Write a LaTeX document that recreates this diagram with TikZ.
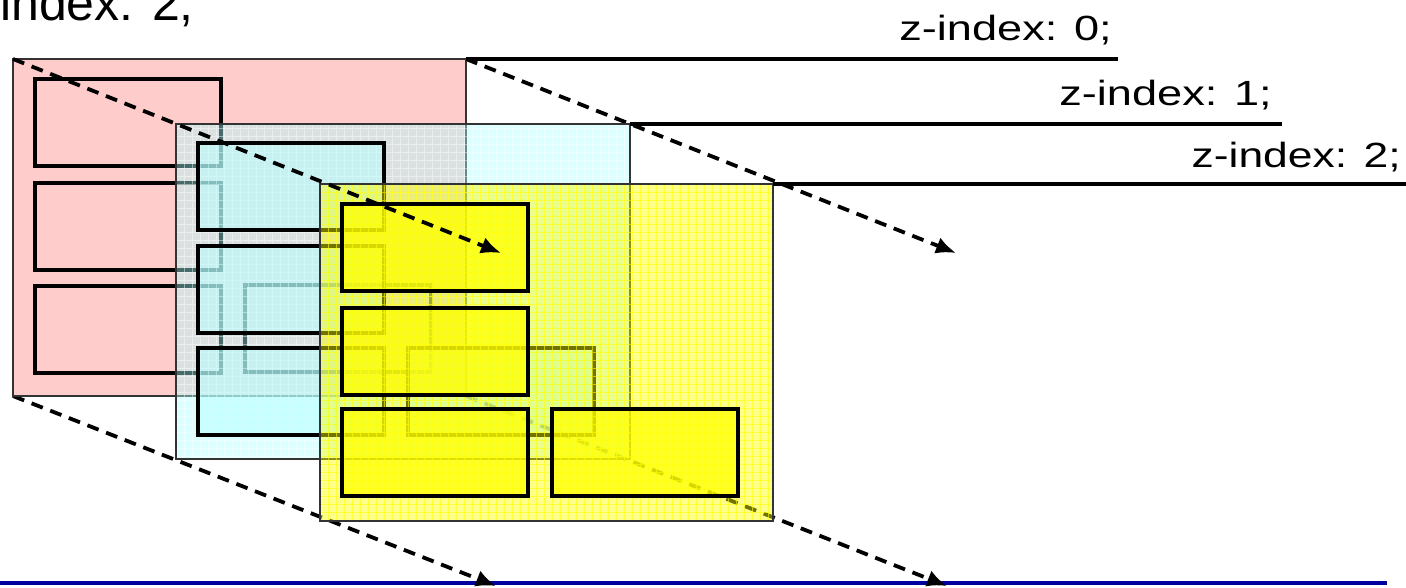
\documentclass[tikz,border=0pt]{standalone}
\usepackage{fontspec}
\setmainfont{Liberation Sans}
\usepackage{graphicx}
\usetikzlibrary{arrows.meta}
\definecolor{pinkL}{HTML}{FFCCCC}
\definecolor{cyanL}{rgb}{0.67,1,1}
\definecolor{cyanIn}{rgb}{0.72,1,1}
\definecolor{yelL}{rgb}{1,1,0}
\definecolor{navyline}{rgb}{0,0,0.62}
\begin{document}
\begin{tikzpicture}[x=1pt,y=-1pt,
  layerframe/.style={draw=black!80, line width=1.6pt},
  innerbox/.style={draw=black, line width=3.2pt},
  dasharrow/.style={line width=3.8pt, dash pattern=on 12pt off 8pt,
     -{Latex[length=20pt,width=17pt]}},
  rule/.style={draw=black, line width=3.2pt},
  zlabel/.style={anchor=base east, inner sep=0pt, font=\fontsize{35}{35}\selectfont},
  biglabel/.style={anchor=base east, inner sep=0pt, font=\fontsize{50}{50}\selectfont}
]
\useasboundingbox (0,0) rectangle (1406,587);

% ---- corner coordinates of the three layers
\coordinate (L0tl) at (13,59);  \coordinate (L0tr) at (466,59);
\coordinate (L0bl) at (13,396); \coordinate (L0br) at (466,396);
\coordinate (L1tl) at (176,124); \coordinate (L1br) at (630,459);
\coordinate (L1tr) at (630,124);
\coordinate (L2tl) at (320,184); \coordinate (L2br) at (773,521);
\coordinate (L2tr) at (773,184);

% ---- arrow ends and rule ends
\coordinate (A1e) at (501,253);
\coordinate (A2e) at (956,253);
\coordinate (A3e) at (496,586);
\coordinate (A4e) at (947,586);
\coordinate (H0e) at (1118,59);
\coordinate (H1e) at (1282,124);
\coordinate (H2e) at (1406,184);
\coordinate (Bs) at (0,583);
\coordinate (Be) at (1387,583);

% ---- blue base line
\draw[navyline, line width=3.4pt] (Bs) -- (Be);

% ---- arrows lying behind the layers
\draw[dasharrow] (L0tr) -- (A2e);
\draw[dasharrow] (L0bl) -- (A3e);
\draw[dasharrow] (L0br) -- (A4e);

% ---- layer 0 (pink)
\fill[pinkL] (L0tl) rectangle (L0br);
\draw[layerframe] (L0tl) rectangle (L0br);
\draw[innerbox] (35,79) rectangle ++(186,87);
\draw[innerbox] (35,183) rectangle ++(186,87);
\draw[innerbox] (35,286) rectangle ++(186,87);
\draw[innerbox] (245,285) rectangle ++(186,87);

% ---- layer 1 (cyan, translucent)
\fill[cyanL, fill opacity=0.42] (L1tl) rectangle (L1br);
\begin{scope}
  \clip (L1tl) rectangle (L1br);
  \draw[white, opacity=0.45, line width=0.8pt, step=8pt] (L1tl) grid (L1br);
\end{scope}
\fill[cyanIn, fill opacity=0.55] (198,143) rectangle ++(186,87);
\fill[cyanIn, fill opacity=0.55] (198,246) rectangle ++(186,87);
\fill[cyanIn, fill opacity=0.55] (198,348) rectangle ++(186,87);
\fill[cyanIn, fill opacity=0.55] (408,348) rectangle ++(186,87);
\draw[layerframe] (L1tl) rectangle (L1br);
\draw[innerbox] (198,143) rectangle ++(186,87);
\draw[innerbox] (198,246) rectangle ++(186,87);
\draw[innerbox] (198,348) rectangle ++(186,87);
\draw[innerbox] (408,348) rectangle ++(186,87);

% ---- layer 2 (yellow, translucent)
\fill[yelL, fill opacity=0.45] (L2tl) rectangle (L2br);
\begin{scope}
  \clip (L2tl) rectangle (L2br);
  \draw[yelL, opacity=0.6, line width=0.8pt, step=8pt] (L2tl) grid (L2br);
\end{scope}
\fill[yelL, fill opacity=0.72] (342,204) rectangle ++(186,87);
\fill[yelL, fill opacity=0.72] (342,308) rectangle ++(186,87);
\fill[yelL, fill opacity=0.72] (342,409) rectangle ++(186,87);
\fill[yelL, fill opacity=0.72] (552,409) rectangle ++(186,87);
\draw[layerframe, line width=2.4pt] (L2tl) rectangle (L2br);
\draw[innerbox] (342,204) rectangle ++(186,87);
\draw[innerbox] (342,308) rectangle ++(186,87);
\draw[innerbox] (342,409) rectangle ++(186,87);
\draw[innerbox] (552,409) rectangle ++(186,87);

% ---- rules and labels
\draw[rule] (L0tr) -- (H0e);
\draw[rule] (L1tr) -- (H1e);
\draw[rule] (L2tr) -- (H2e);
\node[zlabel] (z0) at (1112,40) {\scalebox{1.29}[1]{z-index: 0;}};
\node[zlabel] (z1) at (1272,105) {\scalebox{1.29}[1]{z-index: 1;}};
\node[zlabel] (z2) at (1401,167) {\scalebox{1.27}[1]{z-index: 2;}};
\node[biglabel] (zbig) at (194,20) {\scalebox{1.0}[1]{z-index: 2;}};

% ---- front arrow
\draw[dasharrow] (L0tl) -- (A1e);
\end{tikzpicture}
\end{document}
